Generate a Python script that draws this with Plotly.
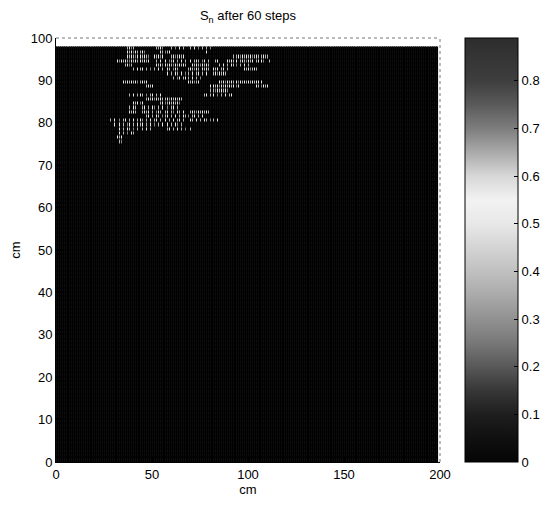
import numpy as np
import plotly.graph_objects as go

# ---- data ----
TITLE = "S<sub>n</sub> after 60 steps"
X_TICKS = [0, 50, 100, 150, 200]
Y_TICKS = [0, 10, 20, 30, 40, 50, 60, 70, 80, 90, 100]
CBAR_TICKS = [0, 0.1, 0.2, 0.3, 0.4, 0.5, 0.6, 0.7, 0.8]
N_COLS = 199          # 1 cm cells along x
N_ROWS = 98           # 1 cm cells along y
BACKGROUND = 0.035    # value of the dark field
Z_MAX = 0.89
LEVELS = {"1": 0.12, "2": 0.2, "3": 0.28, "4": 0.38, "5": 0.5}

# bright cells: row (lower edge, cm) -> list of (first column cm, levels)
PATTERN = {
    97: [(37, "4534"), (52, "4453"), (60, "4.3.5.4.3.4.5.3.4.4.3")],
    96: [(37, "5453545453"), (54, "545345"), (78, "5")],
    95: [(37, "545435454543"), (51, "54535"), (60, "4534545"), (92, "4545354545345454544")],
    94: [(31, "453545435454354545"), (52, "4.5.45.345.4.5.43.5.454.35.4.5.45"),
         (89, "545435.4543545.45453"), (111, "4")],
    93: [(36, "4534"), (52, "5453454543545454"), (71, "545435454"), (85, "4.5.4.54.3.4.5.4")],
    92: [(40, "4.5.45.4.3.4.5.45"), (58, "54.354"), (68, "5454354.5454.3545.45.4"), (98, "5453454")],
    91: [(58, "5.4.54.5.3.4.5.45.4.5"), (82, "4535454")],
    90: [(61, "4.35.45.4.5.4.3")],
    89: [(35, "5454545354545"), (69, "545345"), (85, "54535454353545454545545")],
    88: [(47, "4545"), (80, "5454535454545435"), (104, "5453545")],
    87: [(80, "4543545453")],
    86: [(38, "4.5.4.54.3.45.4.5"), (77, "45.4.5.3.4.5.45.4")],
    85: [(47, "4545354545453545454")],
    84: [(40, "545435"), (54, "45434545453")],
    83: [(38, "4.54.3.45.4.53.4.54.3.45.4")],
    82: [(38, "5454.3.4545.4.354.545.43.54.5"), (70, "4543545454")],
    81: [(47, "45.4.54.3.45.4.5.4.54.3.45.4.5")],
    80: [(28, "4.54.3.45.4.5.4.53.4.5.45.4.35.4.5.45.4.3.54.5.4.54.3.4.5")],
    79: [(30, "54.5.4.35.4.5.45.4.5.3.4.54.5.4.53.4")],
    78: [(33, "5.4.54.3.45.4.5.4"), (58, "45.4.5.4.35.4")],
    77: [(31, "4.5.4.3.54")],
    76: [(32, "545")],
    75: [(33, "43")],
}

# colormap (value, grey level)
CMAP_VALUES = [0.00, 0.05, 0.10, 0.15, 0.20, 0.25, 0.30, 0.35, 0.40, 0.45,
               0.50, 0.55, 0.60, 0.65, 0.70, 0.75, 0.80, 0.89]
CMAP_GREYS = [5, 16, 30, 55, 88, 120, 145, 170, 192, 212,
              232, 242, 215, 170, 125, 90, 62, 45]

# ---- build the field ----
z = np.full((N_ROWS, N_COLS), BACKGROUND)
for row, segs in PATTERN.items():
    for start, levels in segs:
        for k, ch in enumerate(levels):
            if ch in LEVELS and start + k < N_COLS:
                z[row, start + k] = LEVELS[ch]

colorscale = [[v / Z_MAX, f"rgb({g},{g},{g})"] for v, g in zip(CMAP_VALUES, CMAP_GREYS)]

FONT = "Liberation Sans, Arial, sans-serif"

# the page body has an 8px margin, so the figure is laid out 8px in from the window
OFF = 8
W, H = 554 - OFF, 506 - OFF
L, T = 56 - OFF, 38 - OFF
R = W - (440 - OFF)
B = H - (462 - OFF)
PW = W - L - R

fig = go.Figure()
fig.add_trace(go.Heatmap(
    z=z, x0=0.5, dx=1, y0=0.5, dy=1,
    zmin=0, zmax=Z_MAX, colorscale=colorscale,
    xgap=1, ygap=1,
    colorbar=dict(
        x=(465 - 56) / PW, xanchor="left", xpad=0, y=0.5, yanchor="middle",
        len=1, lenmode="fraction", thickness=53, ypad=0,
        outlinecolor="black", outlinewidth=1,
        tickvals=CBAR_TICKS, ticktext=[f"{t:g}" for t in CBAR_TICKS],
        ticks="inside", ticklen=4, tickcolor="black",
        tickfont=dict(family=FONT, size=13, color="black"),
    ),
    hoverinfo="skip",
))

# dark field behind the cells (grid edges are black)
fig.add_shape(type="rect", layer="below", xref="x", yref="y",
              x0=0, x1=N_COLS, y0=0, y1=N_ROWS,
              fillcolor="black", line=dict(width=0))
# dotted top / right box edges
fig.add_shape(type="line", xref="paper", yref="paper", x0=0, x1=1, y0=1, y1=1,
              line=dict(color="#777", width=1, dash="dot"))
fig.add_shape(type="line", xref="paper", yref="paper", x0=1, x1=1, y0=0, y1=1,
              line=dict(color="#777", width=1, dash="dot"))

axis_common = dict(showline=True, linecolor="black", linewidth=1,
                   ticks="inside", ticklen=5, tickcolor="black",
                   showgrid=False, zeroline=False, automargin=False,
                   tickfont=dict(family=FONT, size=13, color="black"))

fig.update_xaxes(range=[0, 200], tickvals=X_TICKS,
                 title=dict(text="cm", font=dict(family=FONT, size=13, color="black"), standoff=2),
                 **axis_common)
fig.update_yaxes(range=[0, 100], tickvals=Y_TICKS,
                 title=dict(text="cm", font=dict(family=FONT, size=13, color="black"), standoff=10),
                 **axis_common)

fig.update_layout(
    width=W, height=H,
    margin=dict(l=L, r=R, t=T, b=B, autoexpand=False),
    paper_bgcolor="white", plot_bgcolor="white",
    title=dict(text=TITLE, x=(L + (W - R)) / 2 / W, xanchor="center",
               y=1 - 3 / H, yanchor="top", pad=dict(t=0, b=0),
               font=dict(family=FONT, size=13, color="black")),
)

fig.write_html("out.html")
